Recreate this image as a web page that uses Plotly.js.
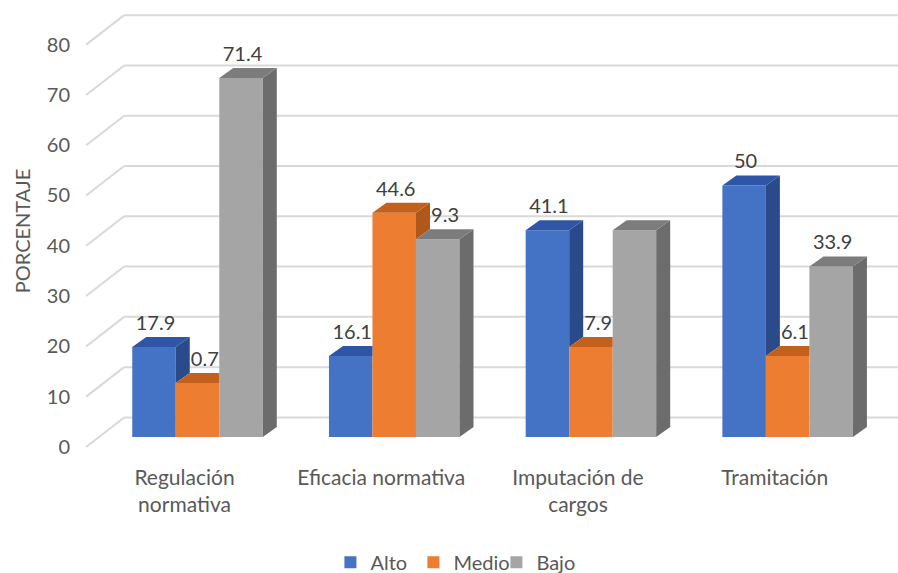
<!DOCTYPE html>
<html>
<head>
<meta charset="utf-8">
<script src="https://cdn.plot.ly/plotly-3.0.1.min.js"></script>
<style>
  html, body { margin: 0; padding: 0; background: #ffffff; }
  #chart { width: 898px; height: 573px; }
</style>
</head>
<body>
<div id="chart"></div>
<script>
// ---- data ----
const categories = ['Regulación normativa', 'Eficacia normativa', 'Imputación de cargos', 'Tramitación'];
const categoryLabels = ['Regulación<br>normativa', 'Eficacia normativa', 'Imputación de<br>cargos', 'Tramitación'];
const seriesNames = ['Alto', 'Medio', 'Bajo'];
const alto  = [17.9, 16.1, 41.1, 50];
const medio = [10.7, 44.6, 17.9, 16.1];
const bajo  = [71.4, 39.3, 41.1, 33.9];
// value labels that are not printed (series index, category index)
const unlabeled = [[2, 2]];
const yTicks = [0, 10, 20, 30, 40, 50, 60, 70, 80];

// ---- look ----
const FONT = 'Lato, "Open Sans", sans-serif';
const frontColors = ['#4472c4', '#ed7d31', '#a5a5a5'];
const topColors   = ['#2f56a6', '#c2601c', '#7c7c7c'];
const sideColors  = ['#2b4a8a', '#b0581c', '#6c6c6c'];

const W = 898, H = 573;
const M = { l: 85, r: 0, t: 12, b: 123, autoexpand: false };
const plotW = W - M.l - M.r, plotH = H - M.t - M.b;
const xRange = [-0.572, 3.561];
const yRange = [-2.6, 84.5];
const ux = (xRange[1] - xRange[0]) / plotW;   // x units per pixel
const uy = (yRange[1] - yRange[0]) / plotH;   // y units per pixel

const BAR_W = 0.2212;                         // width of one bar in category units
const DEPTH = { x: 14 * ux, y: 10 * uy };     // oblique depth of each bar
const WALL  = { x: 25 * ux, y: 19.5 * uy };   // back wall offset
const FLOOR = { x: -13 * ux, y: -10 * uy };   // front edge of the floor
const LEFT = -0.5;
const LABEL_GAP = 22 * uy;

const series = [alto, medio, bajo];
const xs = categories.map((c, i) => i);

// ---- traces: front faces + value labels ----
const traces = [];
series.forEach((vals, k) => {
  traces.push({
    type: 'bar',
    name: seriesNames[k],
    x: xs,
    y: vals,
    width: BAR_W,
    offset: (k - 1.5) * BAR_W,
    marker: { color: frontColors[k], line: { width: 0 } },
    hoverinfo: 'skip'
  });
});
series.forEach((vals, k) => {
  traces.push({
    type: 'scatter',
    mode: 'text',
    x: xs.map(i => i + (k - 1) * BAR_W + 1.5 * ux),
    y: vals.map(v => v + LABEL_GAP),
    text: vals.map((v, i) => unlabeled.some(u => u[0] === k && u[1] === i) ? '' : String(v)),
    textposition: 'middle center',
    textfont: { family: FONT, size: 20, color: '#404040' },
    cliponaxis: false,
    showlegend: false,
    hoverinfo: 'skip'
  });
});

// ---- shapes: walls and 3D bar faces ----
const shapes = [];
yTicks.forEach(t => {
  shapes.push({
    type: 'line', layer: 'below', xref: 'x', yref: 'y',
    x0: LEFT + WALL.x, y0: t + WALL.y, x1: xRange[1] + 1, y1: t + WALL.y,
    line: { color: '#d9d9d9', width: 2 }
  });
  shapes.push({
    type: 'line', layer: 'below', xref: 'x', yref: 'y',
    x0: LEFT + FLOOR.x, y0: t + FLOOR.y, x1: LEFT + WALL.x, y1: t + WALL.y,
    line: { color: '#d9d9d9', width: 2 }
  });
});

const P = (x, y) => x.toFixed(5) + ',' + y.toFixed(5);
xs.forEach(i => {
  series.forEach((vals, k) => {
    const v = vals[i];
    const x0 = i + (k - 1.5) * BAR_W;
    const x1 = x0 + BAR_W;
    const next = k < series.length - 1 ? series[k + 1][i] : null;
    // right side face: only the part not hidden by the neighbouring bar
    if (next === null || next < v) {
      const b = next === null ? 0 : next;
      shapes.push({
        type: 'path', layer: 'above', xref: 'x', yref: 'y',
        path: 'M' + P(x1, b) + 'L' + P(x1, v) + 'L' + P(x1 + DEPTH.x, v + DEPTH.y) +
              'L' + P(x1 + DEPTH.x, b + DEPTH.y) + 'Z',
        fillcolor: sideColors[k], line: { width: 0 }
      });
    }
    // top face
    const xr = (next !== null && next > v) ? x1 : x1 + DEPTH.x;
    shapes.push({
      type: 'path', layer: 'above', xref: 'x', yref: 'y',
      path: 'M' + P(x0, v) + 'L' + P(x1, v) + 'L' + P(xr, v + DEPTH.y) +
            'L' + P(x0 + DEPTH.x, v + DEPTH.y) + 'Z',
      fillcolor: topColors[k], line: { width: 0 }
    });
  });
});

const layout = {
  width: W, height: H,
  margin: M,
  paper_bgcolor: '#ffffff',
  plot_bgcolor: 'rgba(0,0,0,0)',
  font: { family: FONT, size: 20, color: '#595959' },
  barmode: 'overlay',
  showlegend: true,
  legend: {
    orientation: 'h', x: 0.455, xanchor: 'center', y: -0.256, yanchor: 'middle',
    font: { family: FONT, size: 20, color: '#595959' },
    entrywidth: 38, entrywidthmode: 'pixels',
    traceorder: 'normal'
  },
  xaxis: {
    range: xRange, type: 'linear',
    tickvals: xs, ticktext: categoryLabels,
    ticks: '', showgrid: false, zeroline: false, showline: false,
    ticklabelshift: -13, ticklabelstandoff: 13,
    tickfont: { family: FONT, size: 21, color: '#595959' },
    automargin: false, fixedrange: true
  },
  yaxis: {
    range: yRange, tickvals: yTicks,
    ticks: '', showgrid: false, zeroline: false, showline: false,
    ticklabelshift: 10, ticklabelstandoff: 14,
    tickfont: { family: FONT, size: 20, color: '#595959' },
    title: { text: 'PORCENTAJE', font: { family: FONT, size: 20, color: '#595959' }, standoff: 10 },
    automargin: false, fixedrange: true
  },
  shapes: shapes
};

Plotly.newPlot('chart', traces, layout, { staticPlot: true, displayModeBar: false });
</script>
</body>
</html>
